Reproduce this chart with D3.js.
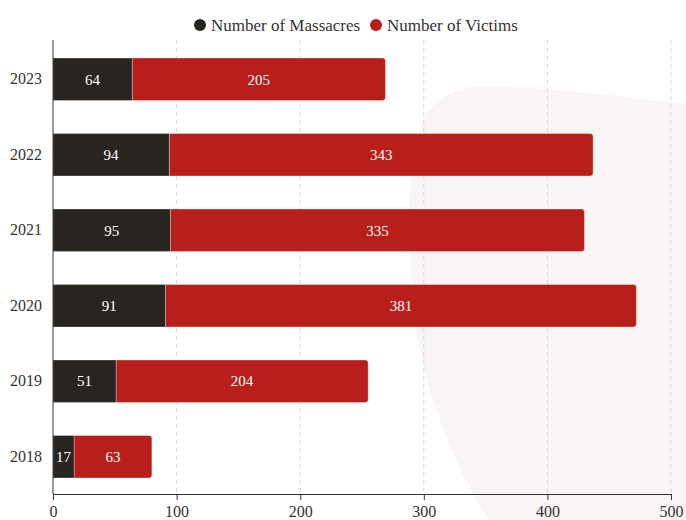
<!DOCTYPE html>
<html>
<head>
<meta charset="utf-8">
<script src="https://cdn.jsdelivr.net/npm/d3@7"></script>
<style>
  html, body { margin: 0; padding: 0; background: #fff; }
  svg { display: block; font-family: "Liberation Serif", "DejaVu Serif", serif; }
</style>
</head>
<body>
<svg id="chart" width="686" height="520"></svg>
<script>
const years = ["2023", "2022", "2021", "2020", "2019", "2018"];
const massacres = [64, 94, 95, 91, 51, 17];
const victims = [205, 343, 335, 381, 204, 63];
const seriesNames = ["Number of Massacres", "Number of Victims"];
const seriesColors = ["#282520", "#b81f1a"];
const xTicks = [0, 100, 200, 300, 400, 500];

const W = 686, H = 520;
const margin = { top: 40, right: 15, bottom: 26, left: 53 };
const svg = d3.select("#chart");

// soft decorative shape in the background
svg.append("path")
  .attr("d", "M686,104 C620,96 540,86 480,87 C440,89 418,110 412,160 C406,220 410,300 420,350 C432,410 458,470 488,520 L686,520 Z")
  .attr("fill", "#f9f5f4");

const x = d3.scaleLinear().domain([0, 500]).range([margin.left, W - margin.right]);
const y = d3.scaleBand().domain(years).range([margin.top + 2, H - margin.bottom])
  .paddingInner(0.437).paddingOuter(0.212);

// dashed vertical grid
svg.append("g").selectAll("line")
  .data(xTicks.filter(d => d > 0))
  .join("line")
  .attr("x1", d => x(d)).attr("x2", d => x(d))
  .attr("y1", margin.top).attr("y2", H - margin.bottom)
  .attr("stroke", "#d6d6d6").attr("stroke-dasharray", "4,4");

const rows = years.map((yr, i) => ({ year: yr, m: massacres[i], v: victims[i] }));
const bars = svg.append("g");

rows.forEach(d => {
  const y0 = y(d.year), bh = y.bandwidth();
  // victims segment with rounded right end
  const x0 = x(d.m), x1 = x(d.m + d.v), r = 3;
  bars.append("path")
    .attr("d", `M${x0},${y0} H${x1 - r} Q${x1},${y0} ${x1},${y0 + r} V${y0 + bh - r} Q${x1},${y0 + bh} ${x1 - r},${y0 + bh} H${x0} Z`)
    .attr("fill", seriesColors[1])
    .attr("stroke", "rgba(255,255,255,0.35)").attr("stroke-width", 1);
  bars.append("rect")
    .attr("x", x(0)).attr("y", y0)
    .attr("width", x(d.m) - x(0)).attr("height", bh)
    .attr("fill", seriesColors[0])
    .attr("stroke", "rgba(255,255,255,0.3)").attr("stroke-width", 1);
  bars.append("text")
    .attr("x", (x(0) + x(d.m)) / 2).attr("y", y0 + bh / 2)
    .attr("dy", "0.35em").attr("text-anchor", "middle")
    .attr("fill", "#fff").attr("font-size", 15)
    .text(d.m);
  bars.append("text")
    .attr("x", (x(d.m) + x(d.m + d.v)) / 2).attr("y", y0 + bh / 2)
    .attr("dy", "0.35em").attr("text-anchor", "middle")
    .attr("fill", "#fff").attr("font-size", 15)
    .text(d.v);
});

// x axis
const xAxis = svg.append("g")
  .attr("transform", `translate(0,${H - margin.bottom})`)
  .call(d3.axisBottom(x).tickValues(xTicks).tickSize(6).tickPadding(6).tickSizeOuter(0));
xAxis.select(".domain").attr("stroke", "#333");
xAxis.selectAll(".tick line").attr("stroke", "#333");
xAxis.selectAll("text").attr("font-size", 16).attr("fill", "#333").attr("font-family", "Liberation Serif, serif");

// y axis
const yAxis = svg.append("g")
  .attr("transform", `translate(${margin.left},0)`)
  .call(d3.axisLeft(y).tickSize(0).tickPadding(11));
yAxis.select(".domain").attr("stroke", "#333").attr("d", `M0,${margin.top}V${H - margin.bottom}`);
yAxis.selectAll("text").attr("font-size", 16).attr("fill", "#333").attr("font-family", "Liberation Serif, serif");

// legend
const legendX = [200, 376];
const legend = svg.append("g");
seriesNames.forEach((name, i) => {
  legend.append("circle").attr("cx", legendX[i]).attr("cy", 25).attr("r", 6).attr("fill", seriesColors[i]);
  legend.append("text").attr("x", legendX[i] + 11).attr("y", 25).attr("dy", "0.35em")
    .attr("font-size", 17).attr("fill", "#333").text(name);
});
</script>
</body>
</html>
